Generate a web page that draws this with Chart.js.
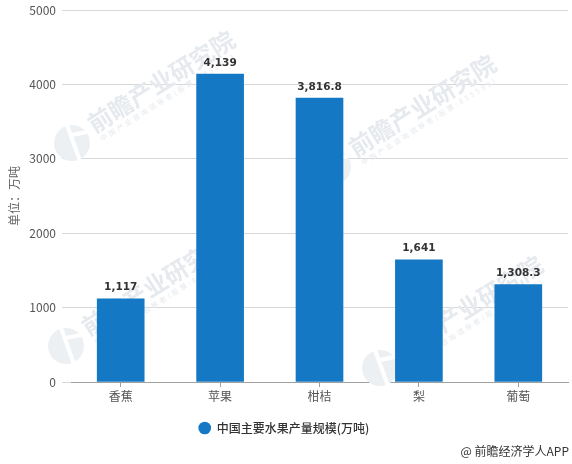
<!DOCTYPE html>
<html>
<head>
<meta charset="utf-8">
<script src="https://cdn.jsdelivr.net/npm/chart.js@4.4.1/dist/chart.umd.min.js"></script>
<style>
html, body { margin: 0; padding: 0; background: #fff; }
#wrap { position: relative; width: 572px; height: 464px; }
</style>
</head>
<body>
<div id="wrap"><canvas id="chart"></canvas></div>
<script>
const fruits = ['香蕉', '苹果', '柑桔', '梨', '葡萄'];
const output = [1117, 4139, 3816.8, 1641, 1308.3];
const outputLabels = ['1,117', '4,139', '3,816.8', '1,641', '1,308.3'];
const yTicks = [0, 1000, 2000, 3000, 4000, 5000];
const seriesName = '中国主要水果产量规模(万吨)';
const yTitle = '单位：万吨';
const credit = '@ 前瞻经济学人APP';

const CJK = '"Noto Sans CJK SC", "Noto Sans", sans-serif';

// 数值标签 + 右下角来源
const valueLabels = {
    id: 'valueLabels',
    afterDatasetsDraw(chart) {
        const { ctx } = chart;
        ctx.save();
        ctx.font = 'bold 10.5px "DejaVu Sans", sans-serif';
        ctx.fillStyle = '#333';
        ctx.textAlign = 'center';
        ctx.textBaseline = 'bottom';
        chart.getDatasetMeta(0).data.forEach((bar, i) => {
            ctx.fillText(outputLabels[i], bar.x, bar.y - 6);
        });
        ctx.font = '12px ' + CJK;
        ctx.textAlign = 'right';
        ctx.textBaseline = 'middle';
        ctx.fillText(credit, 569, 451);
        ctx.restore();
    }
};

// 水印，画在柱子下面
const watermark = {
    id: 'watermark',
    beforeDatasetsDraw(chart) {
        const { ctx } = chart;
        const spots = [[72, 143], [333, 167], [66, 346], [380, 368]];
        spots.forEach(([x, y]) => {
            ctx.save();
            ctx.translate(x, y);
            ctx.fillStyle = '#edf0f3';
            ctx.beginPath();
            ctx.arc(0, 0, 18, 0, Math.PI * 2);
            ctx.fill();
            ctx.strokeStyle = '#fff';
            ctx.lineWidth = 4;
            ctx.beginPath();
            ctx.moveTo(-5, -18);
            ctx.lineTo(8, 18);
            ctx.moveTo(0, -8);
            ctx.lineTo(15, -11);
            ctx.stroke();
            ctx.translate(18, -17);
            ctx.rotate(-32 * Math.PI / 180);
            ctx.fillStyle = '#e6eaee';
            ctx.font = 'bold 24px ' + CJK;
            ctx.textBaseline = 'middle';
            ctx.fillText('前瞻产业研究院', 0, 0);
            ctx.font = '7px ' + CJK;
            ctx.letterSpacing = '2.6px';
            ctx.fillStyle = '#e4e8ec';
            ctx.fillText('中国产业咨询领导者(股票:835599)', 2, 17);
            ctx.restore();
        });
    }
};

new Chart(document.getElementById('chart'), {
    type: 'bar',
    data: {
        labels: fruits,
        datasets: [{
            label: seriesName,
            data: output,
            backgroundColor: '#1478c4',
            barThickness: 47
        }]
    },
    options: {
        responsive: true,
        maintainAspectRatio: false,
        animation: false,
        layout: { padding: { left: 0, right: 4, top: 10, bottom: 20 } },
        plugins: {
            tooltip: { enabled: false },
            legend: {
                position: 'bottom',
                labels: {
                    usePointStyle: true,
                    pointStyle: 'circle',
                    boxHeight: 9,
                    padding: 10,
                    color: '#333',
                    font: { family: CJK, size: 12, weight: '500' }
                }
            }
        },
        scales: {
            x: {
                border: { color: '#a0a0a0' },
                grid: { offset: false, drawOnChartArea: false, tickColor: '#a0a0a0', tickLength: 5 },
                ticks: { color: '#555', font: { family: CJK, size: 12 }, padding: 2, maxRotation: 0 },
                afterFit(scale) { scale.height = 30; }
            },
            y: {
                min: 0,
                max: 5000,
                border: { display: false },
                grid: { color: '#d8d8d8', tickLength: 9 },
                afterBuildTicks(scale) { scale.ticks = yTicks.map(value => ({ value })); },
                ticks: {
                    color: '#555',
                    font: { family: CJK, size: 12 },
                    padding: 6,
                    callback: value => String(value)
                },
                title: { display: true, text: yTitle, color: '#666', font: { family: CJK, size: 12 }, padding: { top: 7, bottom: 0 } },
                afterFit(scale) {
                    scale.width = 71;
                    scale.paddingTop = 0;
                    scale.paddingBottom = 0;
                }
            }
        }
    },
    plugins: [watermark, valueLabels]
});
</script>
</body>
</html>
